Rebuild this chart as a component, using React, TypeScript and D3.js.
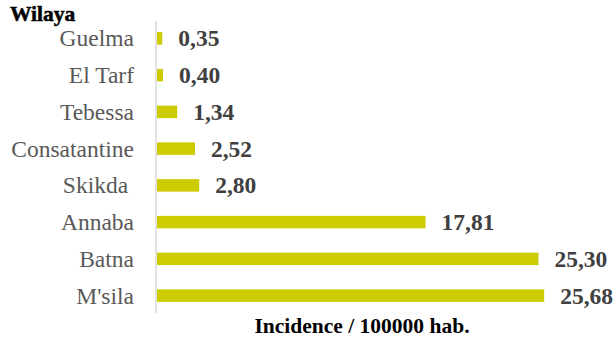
import React from "react";
import * as d3 from "d3";

const categories = ["Guelma", "El Tarf", "Tebessa", "Consatantine", "Skikda ", "Annaba", "Batna", "M'sila"];
const values = [0.35, 0.4, 1.34, 2.52, 2.8, 17.81, 25.3, 25.68];
const valueLabels = ["0,35", "0,40", "1,34", "2,52", "2,80", "17,81", "25,30", "25,68"];
const yTitle = "Wilaya";
const xTitle = "Incidence / 100000 hab.";

export default function App() {
  const W = 616, H = 340;
  const x = d3.scaleLinear().domain([0, 26]).range([157, 549]);
  const y = d3.scaleBand<string>().domain(categories).range([20, 314]).paddingInner(0.66).paddingOuter(0.33);
  const serif = "'Liberation Serif', 'Times New Roman', serif";
  return (
    <svg width={W} height={H} style={{ position: "absolute", left: 0, top: 0, background: "#fff" }}>
      <text x={10} y={21} fontFamily={serif} fontWeight="bold" fontSize={21.5} fill="#000" stroke="#000" strokeWidth={0.5}>{yTitle}</text>
      <line x1={156} x2={156} y1={21} y2={313} stroke="#d9d9d9" strokeWidth={1.5} />
      {categories.map((c, i) => {
        const cy = (y(c) ?? 0) + y.bandwidth() / 2;
        return (
          <g key={c}>
            <rect x={x(0)} y={y(c)} width={x(values[i]) - x(0)} height={y.bandwidth()} fill="#cccc00" />
            <text x={134} y={cy} dy="0.34em" textAnchor="end" fontFamily={serif} fontSize={23.5} fill="#595959" style={{ whiteSpace: "pre" }}>{c}</text>
            <text x={x(values[i]) + 16} y={cy} dy="0.34em" fontFamily={serif} fontWeight="bold" fontSize={23.5} fill="#404040">{valueLabels[i]}</text>
          </g>
        );
      })}
      <text x={362} y={333} textAnchor="middle" fontFamily={serif} fontWeight="bold" fontSize={21.5} fill="#000">{xTitle}</text>
    </svg>
  );
}
